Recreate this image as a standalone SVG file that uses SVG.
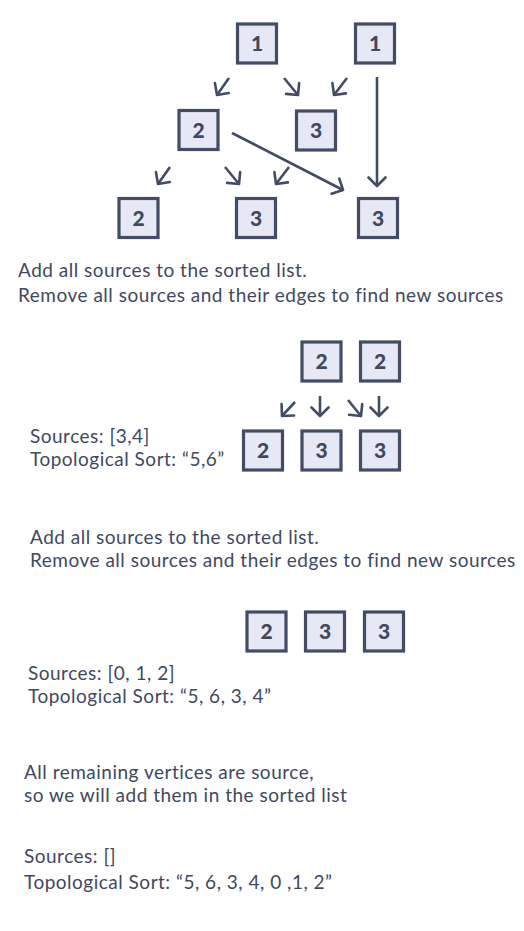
<svg xmlns="http://www.w3.org/2000/svg" width="524" height="931" viewBox="0 0 524 931">
<style>
.box rect{fill:#e7e8f5;stroke:#434c63;stroke-width:3.2}
.box text{font-family:Lato,"Open Sans",sans-serif;font-weight:900;font-size:21px;fill:#3f485f;text-anchor:middle}
.cap{font-family:Lato,"Open Sans",sans-serif;font-size:19px;letter-spacing:0.5px;fill:#3f485f}
.edge{stroke:#434c63;stroke-width:2.6;fill:none;marker-end:url(#ah)}
</style>
<defs>
<marker id="ah" markerUnits="userSpaceOnUse" viewBox="-10 -10 20 20" refX="0" refY="0" markerWidth="20" markerHeight="20" orient="auto" overflow="visible">
<path d="M-8.5,-8.5 L0,0 L-8.5,8.5" fill="none" stroke="#434c63" stroke-width="2.6" stroke-linecap="round" stroke-linejoin="round"/>
</marker>
</defs>
<rect width="524" height="931" fill="#ffffff"/>

<g id="edges">
<line class="edge" x1="229" y1="78" x2="217" y2="95"/>
<line class="edge" x1="284" y1="78" x2="298" y2="95"/>
<line class="edge" x1="347" y1="78" x2="334" y2="95"/>
<line class="edge" x1="377" y1="77" x2="377" y2="186"/>
<line class="edge" x1="170" y1="167" x2="158" y2="184"/>
<line class="edge" x1="225" y1="167" x2="239" y2="184"/>
<line class="edge" x1="289" y1="167" x2="276" y2="184"/>
<line class="edge" x1="232" y1="133" x2="343" y2="190"/>
<line class="edge" x1="295" y1="402" x2="282" y2="416"/>
<line class="edge" x1="320" y1="396" x2="320" y2="416"/>
<line class="edge" x1="348" y1="400" x2="361" y2="416"/>
<line class="edge" x1="379" y1="396" x2="379" y2="416"/>
</g>

<g id="n1a" class="box"><rect x="237.5" y="24" width="39" height="39"/><text x="257" y="51">1</text></g>
<g id="n1b" class="box"><rect x="355.5" y="24" width="39" height="39"/><text x="375" y="51">1</text></g>
<g id="n2a" class="box"><rect x="179" y="110.5" width="39" height="39"/><text x="198.5" y="137.5">2</text></g>
<g id="n3a" class="box"><rect x="296.5" y="111" width="39" height="39"/><text x="316" y="138">3</text></g>
<g id="n2b" class="box"><rect x="119" y="198.5" width="39" height="39"/><text x="138.5" y="225.5">2</text></g>
<g id="n3b" class="box"><rect x="236.5" y="198.5" width="39" height="39"/><text x="256" y="225.5">3</text></g>
<g id="n3c" class="box"><rect x="358.5" y="198.5" width="39" height="39"/><text x="378" y="225.5">3</text></g>

<g id="t1">
<text class="cap" x="18" y="277">Add all sources to the sorted list.</text>
<text class="cap" x="18" y="302">Remove all sources and their edges to find new sources</text>
</g>

<g id="s2a" class="box"><rect x="302" y="342" width="39" height="39"/><text x="321.5" y="369">2</text></g>
<g id="s2b" class="box"><rect x="360.5" y="342" width="39" height="39"/><text x="380" y="369">2</text></g>
<g id="s2c" class="box"><rect x="243.5" y="431" width="39" height="39"/><text x="263" y="458">2</text></g>
<g id="s3a" class="box"><rect x="302" y="431" width="39" height="39"/><text x="321.5" y="458">3</text></g>
<g id="s3b" class="box"><rect x="360.5" y="431" width="39" height="39"/><text x="380" y="458">3</text></g>

<g id="t2">
<text class="cap" x="30" y="443">Sources: [3,4]</text>
<text class="cap" x="30" y="466">Topological Sort: “5,6”</text>
</g>

<g id="t3">
<text class="cap" x="30" y="544">Add all sources to the sorted list.</text>
<text class="cap" x="30" y="567">Remove all sources and their edges to find new sources</text>
</g>

<g id="r2" class="box"><rect x="247" y="612" width="39" height="39"/><text x="266.5" y="639">2</text></g>
<g id="r3a" class="box"><rect x="305.5" y="612" width="39" height="39"/><text x="325" y="639">3</text></g>
<g id="r3b" class="box"><rect x="364.5" y="612" width="39" height="39"/><text x="384" y="639">3</text></g>

<g id="t4">
<text class="cap" x="28" y="680">Sources: [0, 1, 2]</text>
<text class="cap" x="28" y="703">Topological Sort: “5, 6, 3, 4”</text>
</g>

<g id="t5">
<text class="cap" x="24" y="779">All remaining vertices are source,</text>
<text class="cap" x="24" y="802">so we will add them in the sorted list</text>
</g>

<g id="t6">
<text class="cap" x="24" y="863">Sources: []</text>
<text class="cap" x="24" y="889">Topological Sort: “5, 6, 3, 4, 0 ,1, 2”</text>
</g>
</svg>
